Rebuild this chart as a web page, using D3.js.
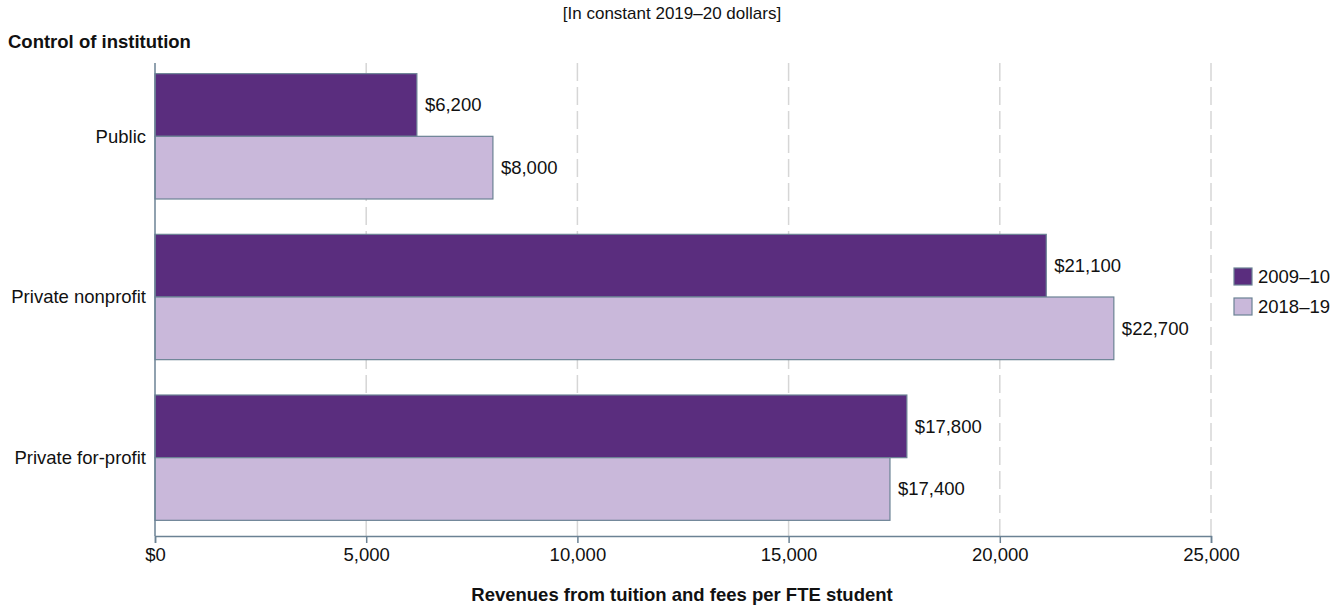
<!DOCTYPE html>
<html>
<head>
<meta charset="utf-8">
<script src="https://cdn.jsdelivr.net/npm/d3@7"></script>
<style>
  body { margin: 0; background: #fff; }
  svg { font-family: "Liberation Sans", Arial, sans-serif; }
</style>
</head>
<body>
<div id="vis"></div>
<script>
// data
const CATEGORIES = ["Public", "Private nonprofit", "Private for-profit"];
const SERIES = ["2009–10", "2018–19"];
const VALUES_2009 = [6200, 21100, 17800];
const VALUES_2018 = [8000, 22700, 17400];
const X_TICKS = [0, 5000, 10000, 15000, 20000, 25000];

const COLORS = ["#5a2d7e", "#c9b8da"];
const STROKE = "#6b8294";
const FONT = "18.5px";

const FRAME_WIDTH = 1344;
const FRAME_HEIGHT = 608;
const MARGINS = {left: 155, right: 133, top: 63, bottom: 72};
const VIS_WIDTH = FRAME_WIDTH - MARGINS.left - MARGINS.right;
const VIS_HEIGHT = FRAME_HEIGHT - MARGINS.top - MARGINS.bottom;

const FRAME = d3.select("#vis")
  .append("svg")
    .attr("width", FRAME_WIDTH)
    .attr("height", FRAME_HEIGHT);

const X_SCALE = d3.scaleLinear()
  .domain([0, 25000])
  .range([0, VIS_WIDTH]);

const Y_SCALE = d3.scaleBand()
  .domain(CATEGORIES)
  .range([-7, VIS_HEIGHT + 2])
  .paddingInner(0.22)
  .paddingOuter(0.11);

const SUB_SCALE = d3.scaleBand()
  .domain(SERIES)
  .range([0, Y_SCALE.bandwidth()]);

const G = FRAME.append("g")
  .attr("transform", "translate(" + MARGINS.left + "," + MARGINS.top + ")");

// grid lines
G.selectAll(".grid")
  .data(X_TICKS.slice(1))
  .enter()
  .append("line")
    .attr("x1", d => X_SCALE(d))
    .attr("x2", d => X_SCALE(d))
    .attr("y1", 0)
    .attr("y2", VIS_HEIGHT)
    .attr("stroke", "#d6d6d6")
    .attr("stroke-width", 1.5)
    .attr("stroke-dasharray", "18,6");

// bars
const rows = CATEGORIES.map((c, i) => ({
  category: c,
  vals: [
    {series: SERIES[0], value: VALUES_2009[i], color: COLORS[0]},
    {series: SERIES[1], value: VALUES_2018[i], color: COLORS[1]}
  ]
}));

const groups = G.selectAll(".group")
  .data(rows)
  .enter()
  .append("g")
    .attr("transform", d => "translate(0," + Y_SCALE(d.category) + ")");

groups.selectAll("rect")
  .data(d => d.vals)
  .enter()
  .append("rect")
    .attr("x", 0)
    .attr("y", d => SUB_SCALE(d.series))
    .attr("width", d => X_SCALE(d.value))
    .attr("height", SUB_SCALE.bandwidth())
    .attr("fill", d => d.color)
    .attr("stroke", STROKE)
    .attr("stroke-width", 1.2);

groups.selectAll(".val")
  .data(d => d.vals)
  .enter()
  .append("text")
    .attr("x", d => X_SCALE(d.value) + 8)
    .attr("y", d => SUB_SCALE(d.series) + SUB_SCALE.bandwidth() / 2)
    .attr("dy", "0.35em")
    .attr("font-size", FONT)
    .attr("fill", "#111")
    .text(d => "$" + d3.format(",")(d.value));

// category labels
G.selectAll(".cat")
  .data(CATEGORIES)
  .enter()
  .append("text")
    .attr("x", -9)
    .attr("y", d => Y_SCALE(d) + Y_SCALE.bandwidth() / 2)
    .attr("dy", "0.35em")
    .attr("text-anchor", "end")
    .attr("font-size", FONT)
    .attr("fill", "#111")
    .text(d => d);

// axes
G.append("line")
  .attr("x1", 0).attr("x2", 0)
  .attr("y1", 0).attr("y2", VIS_HEIGHT)
  .attr("stroke", STROKE)
  .attr("stroke-width", 1.5);

const xAxis = G.append("g")
  .attr("transform", "translate(0," + VIS_HEIGHT + ")")
  .call(d3.axisBottom(X_SCALE)
    .tickValues(X_TICKS)
    .tickSize(7)
    .tickPadding(5)
    .tickFormat(d => d === 0 ? "$0" : d3.format(",")(d)));
xAxis.select(".domain").attr("stroke", STROKE).attr("stroke-width", 1.5);
xAxis.selectAll(".tick line").attr("stroke", STROKE).attr("stroke-width", 1.5);
xAxis.selectAll("text")
  .attr("font-size", FONT)
  .attr("font-family", "Liberation Sans, Arial, sans-serif")
  .attr("fill", "#111");

// titles
FRAME.append("text")
  .attr("x", FRAME_WIDTH / 2)
  .attr("y", 19)
  .attr("text-anchor", "middle")
  .attr("font-size", "17px")
  .attr("fill", "#111")
  .text("[In constant 2019–20 dollars]");

FRAME.append("text")
  .attr("x", 8)
  .attr("y", 48)
  .attr("font-size", FONT)
  .attr("font-weight", "bold")
  .attr("fill", "#111")
  .text("Control of institution");

FRAME.append("text")
  .attr("x", MARGINS.left + VIS_WIDTH / 2 - 1)
  .attr("y", 601)
  .attr("text-anchor", "middle")
  .attr("font-size", FONT)
  .attr("font-weight", "bold")
  .attr("fill", "#111")
  .text("Revenues from tuition and fees per FTE student");

// legend
const legend = FRAME.selectAll(".legend")
  .data(SERIES)
  .enter()
  .append("g")
    .attr("transform", (d, i) => "translate(1234," + (268 + i * 30) + ")");

legend.append("rect")
  .attr("width", 18)
  .attr("height", 17)
  .attr("fill", (d, i) => COLORS[i])
  .attr("stroke", STROKE)
  .attr("stroke-width", 1.2);

legend.append("text")
  .attr("x", 24)
  .attr("y", 9)
  .attr("dy", "0.35em")
  .attr("font-size", FONT)
  .attr("fill", "#111")
  .text(d => d);
</script>
</body>
</html>
